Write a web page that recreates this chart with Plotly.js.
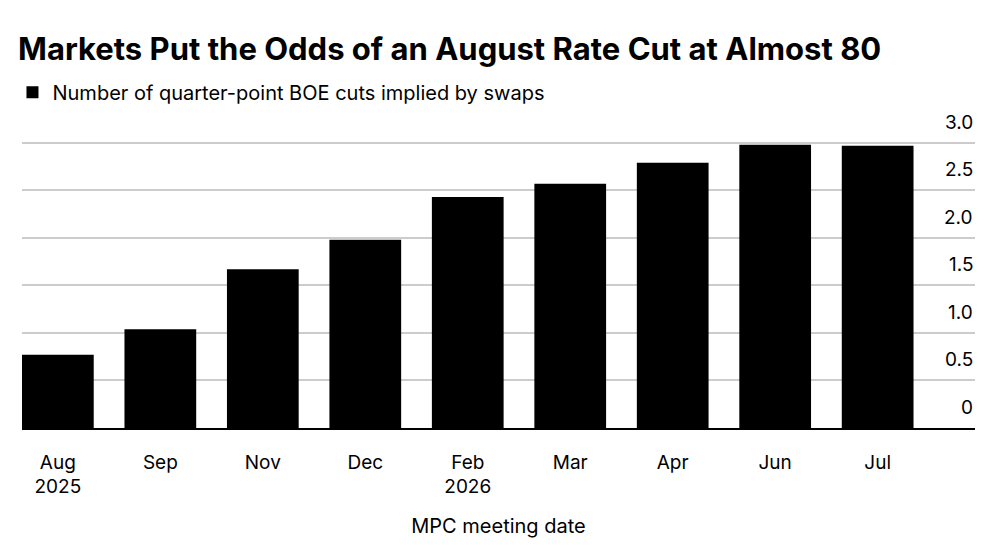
<!DOCTYPE html>
<html>
<head>
<meta charset="utf-8">
<script src="https://cdn.plot.ly/plotly-3.0.1.min.js"></script>
<style>body{margin:0;background:#fff}</style>
</head>
<body>
<div id="plot" style="width:1000px;height:545px"></div>
<script>
var months = ['Aug<br>2025', 'Sep', 'Nov', 'Dec', 'Feb<br>2026', 'Mar', 'Apr', 'Jun', 'Jul'];
var cuts = [0.77, 1.04, 1.67, 1.98, 2.43, 2.57, 2.79, 2.98, 2.97];
var yticks = [0, 0.5, 1.0, 1.5, 2.0, 2.5, 3.0];
var ytext = ['0', '0.5', '1.0', '1.5', '2.0', '2.5', '3.0'];

var font = 'Inter, Liberation Sans, sans-serif';

var bars = {
   name: 'Number of quarter-point BOE cuts implied by swaps',
   x: months,
   y: cuts,
   type: 'bar',
   marker: {color: '#000000'},
   hoverinfo: 'x+y'
};

// y tick labels sit above the gridlines, right-aligned
var ylabels = yticks.map(function(v, i) {
   return {
      x: 1, xref: 'paper', xanchor: 'right',
      y: v, yref: 'y', yanchor: 'bottom', yshift: 7,
      text: ytext[i], showarrow: false,
      font: {family: font, size: 19, color: '#000'}
   };
});

Plotly.newPlot('plot', [bars], {
   width: 1000,
   height: 545,
   margin: {l: 22, r: 25, t: 120, b: 117},
   paper_bgcolor: '#ffffff',
   plot_bgcolor: '#ffffff',
   bargap: 0.3,
   showlegend: true,
   annotations: ylabels,
   title: {
      text: '<b>Markets Put the Odds of an August Rate Cut at Almost 80</b>',
      font: {family: font, size: 31, color: '#000'},
      x: 0, xref: 'container', xanchor: 'left', y: 0.91, yanchor: 'middle',
      pad: {l: 18}
   },
   legend: {
      orientation: 'h', x: -0.01, xanchor: 'left', y: 1.09, yanchor: 'middle',
      font: {family: font, size: 20, color: '#000'},
      itemwidth: 30
   },
   xaxis: {
      range: [-0.35, 8.95],
      tickfont: {family: font, size: 19, color: '#000'},
      ticks: 'outside', ticklen: 16, tickcolor: 'rgba(0,0,0,0)',
      showgrid: false,
      showline: true, linecolor: '#000', linewidth: 1.5,
      title: {text: 'MPC meeting date', font: {family: font, size: 20, color: '#000'}, standoff: 22}
   },
   yaxis: {
      range: [0, 3.24],
      side: 'right',
      tickvals: yticks,
      showticklabels: false,
      gridcolor: '#cccccc', gridwidth: 1.5,
      zeroline: false,
      ticks: ''
   }
}, {displayModeBar: false});
</script>
</body>
</html>
